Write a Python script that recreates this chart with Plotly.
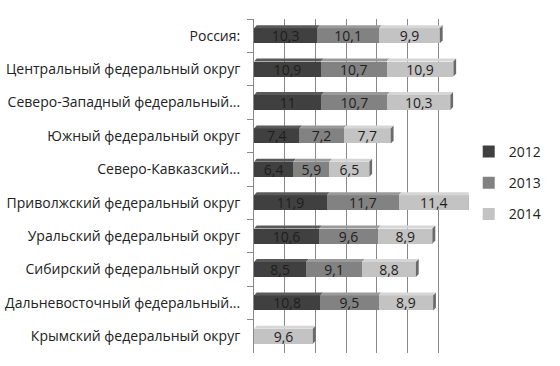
import plotly.graph_objects as go

categories = [
    "Россия:",
    "Центральный федеральный округ",
    "Северо-Западный федеральный...",
    "Южный федеральный округ",
    "Северо-Кавказский...",
    "Приволжский федеральный округ",
    "Уральский федеральный округ",
    "Сибирский федеральный округ",
    "Дальневосточный федеральный...",
    "Крымский федеральный округ",
]
v2012 = [10.3, 10.9, 11, 7.4, 6.4, 11.9, 10.6, 8.5, 10.8, None]
v2013 = [10.1, 10.7, 10.7, 7.2, 5.9, 11.7, 9.6, 9.1, 9.5, None]
v2014 = [9.9, 10.9, 10.3, 7.7, 6.5, 11.4, 8.9, 8.8, 8.9, 9.6]
years = ["2012", "2013", "2014"]
colors = ["#404040", "#828282", "#c3c3c3"]
top_colors = ["#5a5a5a", "#9a9a9a", "#d6d6d6"]


def fmt(v):
    if v is None:
        return ""
    s = f"{v:g}"
    return s.replace(".", ",")


fig = go.Figure()
series = [v2012, v2013, v2014]
for name, vals, col in zip(years, series, colors):
    fig.add_trace(go.Bar(
        y=categories, x=vals, name=name, orientation="h",
        marker=dict(color=col, line=dict(width=0)),
        text=[fmt(v) for v in vals], textposition="inside",
        insidetextanchor="middle", constraintext="none", textangle=0,
        textfont=dict(size=14, color="#1e1e1e"),
        legendgroup=name,
    ))

# pseudo-3D depth faces derived from the data
half = 0.225
dx, dy = 0.45, 0.09
shapes = []
for i in range(len(categories)):
    start = 0.0
    for vals, tc in zip(series, top_colors):
        v = vals[i]
        if v is None:
            continue
        end = start + v
        y0 = i - half
        shapes.append(dict(
            type="path", xref="x", yref="y", layer="above",
            path=f"M{start},{y0} L{start+dx},{y0-dy} L{end+dx},{y0-dy} L{end},{y0} Z",
            fillcolor=tc, line=dict(width=0)))
        start = end
    shapes.append(dict(
        type="path", xref="x", yref="y", layer="above",
        path=(f"M{start},{i-half} L{start+dx},{i-half-dy} "
              f"L{start+dx},{i+half-dy} L{start},{i+half} Z"),
        fillcolor="#6a6a6a", line=dict(width=0)))

fig.update_layout(
    width=560, height=366,
    barmode="stack", bargap=0.55,
    margin=dict(l=254, r=89, t=19, b=13),
    paper_bgcolor="white", plot_bgcolor="white",
    font=dict(family="Open Sans, sans-serif", size=14, color="#222"),
    showlegend=True,
    shapes=shapes,
    legend=dict(xref="container", yref="container", x=0.837, y=0.5,
                xanchor="left", yanchor="middle", itemwidth=30,
                traceorder="grouped", tracegroupgap=10,
                font=dict(size=14, color="#222")),
    xaxis=dict(range=[0, 35], dtick=5, showgrid=True, gridcolor="#888",
               gridwidth=1, showticklabels=False, zeroline=False,
               showline=False, automargin=False),
    yaxis=dict(autorange="reversed", showline=True, linecolor="#888",
               ticks="outside", ticklen=6, tickcolor="#888",
               tickson="boundaries", showgrid=False, ticklabelstandoff=10,
               automargin=False,
               tickfont=dict(size=14, color="#222")),
)
fig.write_html("out.html")
